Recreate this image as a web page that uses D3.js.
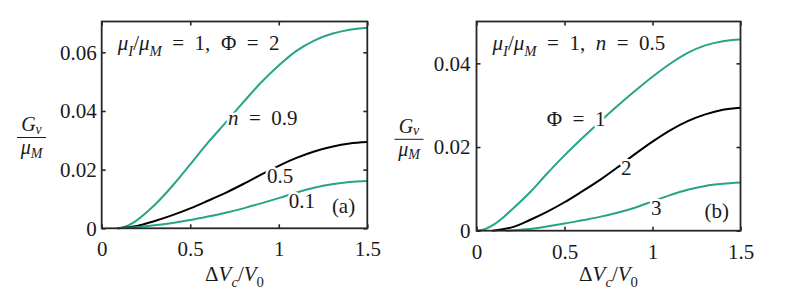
<!DOCTYPE html>
<html>
<head>
<meta charset="utf-8">
<script src="https://cdn.jsdelivr.net/npm/d3@7"></script>
<style>
  html, body { margin: 0; padding: 0; background: #fff; }
</style>
</head>
<body>
<script>
// tick values
const xTicks = [0, 0.5, 1, 1.5];
const yTicksA = [0, 0.02, 0.04, 0.06];
const yTicksB = [0, 0.02, 0.04];

// panel (a): mu_I/mu_M = 1, Phi = 2, varying n
const dvN09 = [0.09, 0.15, 0.2, 0.3, 0.4, 0.5, 0.6, 0.7, 0.8, 0.9, 1.0, 1.1, 1.2, 1.3, 1.4, 1.5];
const gvN09 = [0, 0.0010, 0.0028, 0.0080, 0.0145, 0.0218, 0.0292, 0.0360, 0.0430, 0.0497, 0.0555, 0.0605, 0.0640, 0.0663, 0.0677, 0.0684];
// n = 0.5, Phi = 2 (same curve in both panels)
const dvN05 = [0.09, 0.2, 0.3, 0.4, 0.5, 0.6, 0.7, 0.8, 0.9, 1.0, 1.1, 1.2, 1.3, 1.4, 1.5];
const gvN05 = [0, 0.0008, 0.0025, 0.0045, 0.0068, 0.0094, 0.0121, 0.0151, 0.0183, 0.0213, 0.0240, 0.0262, 0.0278, 0.0289, 0.0294];
const dvN01 = [0.09, 0.2, 0.3, 0.4, 0.5, 0.6, 0.7, 0.8, 0.9, 1.0, 1.1, 1.2, 1.3, 1.4, 1.5];
const gvN01 = [0, 0.0004, 0.0010, 0.0018, 0.0028, 0.0040, 0.0053, 0.0068, 0.0085, 0.0103, 0.0122, 0.0138, 0.0150, 0.0158, 0.0161];

// panel (b): mu_I/mu_M = 1, n = 0.5, varying Phi
const dvPhi1 = [0, 0.05, 0.1, 0.15, 0.2, 0.3, 0.4, 0.5, 0.6, 0.7, 0.8, 0.9, 1.0, 1.1, 1.2, 1.3, 1.4, 1.5];
const gvPhi1 = [0, 0.0004, 0.0015, 0.0031, 0.0050, 0.0090, 0.0136, 0.0180, 0.0221, 0.0260, 0.0298, 0.0334, 0.0368, 0.0399, 0.0425, 0.0443, 0.0453, 0.0457];
const dvPhi3 = [0.17, 0.3, 0.4, 0.5, 0.6, 0.7, 0.8, 0.9, 1.0, 1.1, 1.2, 1.3, 1.4, 1.5];
const gvPhi3 = [0, 0.0004, 0.0010, 0.0017, 0.0025, 0.0033, 0.0043, 0.0055, 0.0070, 0.0085, 0.0098, 0.0107, 0.0112, 0.0115];

const teal = '#27a388';
const black = '#000';
const axisColor = '#262626';
const ink = '#1a1a1a';
const font = 'Liberation Serif';
const fs = 21;

const svg = d3.select('body').append('svg')
  .attr('width', 788)
  .attr('height', 289)
  .attr('font-family', font);

// one text element built from roman / italic / subscript pieces
function mathText(sel, x, y, parts, anchor, size, subShift) {
  size = size || fs;
  const t = sel.append('text')
    .attr('x', x).attr('y', y)
    .attr('text-anchor', anchor || 'start')
    .attr('fill', ink)
    .attr('font-family', font)
    .attr('font-size', size)
    .attr('xml:space', 'preserve');
  let shift = 0;
  parts.forEach(([s, kind]) => {
    const sub = kind === 'sub' || kind === 'subr';
    const target = sub ? (subShift == null ? 0.28 * size : subShift) : 0;
    const ts = t.append('tspan').text(s);
    if (target !== shift) ts.attr('dy', target - shift);
    shift = target;
    if (kind === 'i' || kind === 'sub') ts.attr('font-style', 'italic');
    if (sub) ts.attr('font-size', 0.7 * size);
  });
  return t;
}

function halo(t) {
  t.attr('stroke', '#fff').attr('stroke-width', 5)
    .attr('stroke-linejoin', 'round').attr('paint-order', 'stroke');
}

const EQ = '\u2002=\u2002';

function drawPanel(p) {
  const x = d3.scaleLinear().domain([0, 1.5]).range([p.left, p.right]);
  const y = d3.scaleLinear().domain([0, p.ymax]).range([p.bottom, p.top]);
  const g = svg.append('g');

  const line = d3.line()
    .x(d => x(d[0]))
    .y(d => y(d[1]))
    .curve(d3.curveCatmullRom.alpha(0.5));

  g.selectAll('path.curve')
    .data(p.series)
    .enter()
    .append('path')
    .attr('class', 'curve')
    .attr('d', s => line(d3.zip(s.dv, s.gv)))
    .attr('fill', 'none')
    .attr('stroke', s => s.color)
    .attr('stroke-width', 2);

  // labels sit on the curves, a white halo breaks the line under them
  p.labels.forEach(l => halo(mathText(g, x(l.at[0]), y(l.at[1]), l.parts)));

  mathText(g, p.left + 16, p.top + 28.5, p.note);

  // axes: ticks inward on all four sides
  const fmt = d => String(d);
  const ax = [
    g.append('g').attr('transform', `translate(0,${p.bottom})`)
      .call(d3.axisBottom(x).tickValues(xTicks).tickSize(-4).tickPadding(13).tickFormat(fmt)),
    g.append('g').attr('transform', `translate(0,${p.top})`)
      .call(d3.axisTop(x).tickValues(xTicks).tickSize(-4).tickFormat('')),
    g.append('g').attr('transform', `translate(${p.left},0)`)
      .call(d3.axisLeft(y).tickValues(p.yTicks).tickSize(-4).tickPadding(p.ypad).tickFormat(fmt)),
    g.append('g').attr('transform', `translate(${p.right},0)`)
      .call(d3.axisRight(y).tickValues(p.yTicks).tickSize(-4).tickFormat(''))
  ];
  ax.forEach(a => {
    a.attr('color', axisColor).attr('font-family', font).attr('font-size', fs);
    a.select('.domain').remove();
    a.selectAll('line').attr('stroke-width', 1.6);
    a.selectAll('text').attr('fill', ink);
  });

  g.append('rect')
    .attr('x', p.left).attr('y', p.top)
    .attr('width', p.right - p.left).attr('height', p.bottom - p.top)
    .attr('fill', 'none').attr('stroke', axisColor).attr('stroke-width', 1.8);

  // x label
  mathText(g, (p.left + p.right) / 2, 281,
    [['\u0394', 'r'], ['V', 'i'], ['c', 'sub'], ['/', 'r'], ['V', 'i'], ['0', 'subr']], 'middle');

  // y label as a stacked fraction
  const fx = p.fracX;
  mathText(g, fx, p.fracY - 6.5, [['G', 'i'], ['v', 'sub']], 'middle', 20, 2.5);
  g.append('line')
    .attr('x1', fx - 14.5).attr('x2', fx + 14.5)
    .attr('y1', p.fracY).attr('y2', p.fracY)
    .attr('stroke', ink).attr('stroke-width', 1);
  mathText(g, fx, p.fracY + 16.5, [['\u03bc', 'i'], ['M', 'sub']], 'middle', 20, 3.5);
}

drawPanel({
  left: 101.7, right: 367.3, top: 21.5, bottom: 228.3, ymax: 0.0705,
  yTicks: yTicksA, ypad: 5, fracX: 31.5, fracY: 137.5,
  series: [
    { dv: dvN09, gv: gvN09, color: teal },
    { dv: dvN05, gv: gvN05, color: black },
    { dv: dvN01, gv: gvN01, color: teal }
  ],
  note: [['\u03bc', 'i'], ['I', 'sub'], ['/', 'r'], ['\u03bc', 'i'], ['M', 'sub'], [EQ + '1,\u2002', 'r'], ['\u03a6', 'r'], [EQ + '2', 'r']],
  labels: [
    { at: [0.713, 0.0352], parts: [['n', 'i'], [EQ + '0.9', 'r']] },
    { at: [0.933, 0.01545], parts: [['0.5', 'r']] },
    { at: [1.056, 0.0069], parts: [['0.1', 'r']] },
    { at: [1.30, 0.0052], parts: [['(a)', 'r']] }
  ]
});

drawPanel({
  left: 476.5, right: 740.5, top: 21.5, bottom: 230.7, ymax: 0.05,
  yTicks: yTicksB, ypad: 6, fracX: 409, fracY: 139.3,
  series: [
    { dv: dvPhi1, gv: gvPhi1, color: teal },
    { dv: dvN05, gv: gvN05, color: black },
    { dv: dvPhi3, gv: gvPhi3, color: teal }
  ],
  note: [['\u03bc', 'i'], ['I', 'sub'], ['/', 'r'], ['\u03bc', 'i'], ['M', 'sub'], [EQ + '1,\u2002', 'r'], ['n', 'i'], [EQ + '0.5', 'r']],
  labels: [
    { at: [0.399, 0.025], parts: [['\u03a6', 'r'], [EQ + '1', 'r']] },
    { at: [0.821, 0.01335], parts: [['2', 'r']] },
    { at: [0.991, 0.00375], parts: [['3', 'r']] },
    { at: [1.295, 0.003], parts: [['(b)', 'r']] }
  ]
});
</script>
</body>
</html>
